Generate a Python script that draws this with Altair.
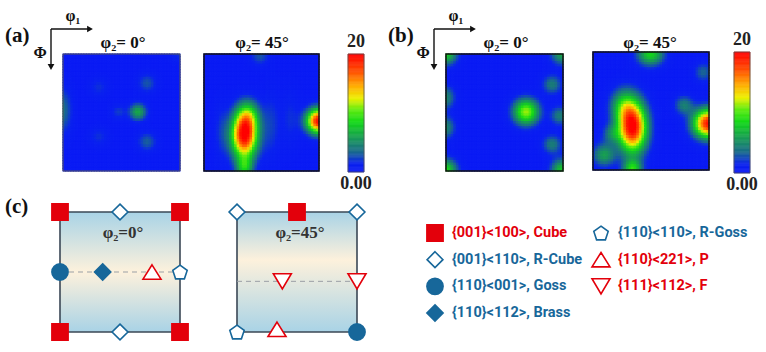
import altair as alt
import numpy as np
import pandas as pd

# ---------------- values ----------------
# ODF hot spots of each section: centre (phi1, Phi) in degrees, peak f(g), spread along phi1 / Phi (deg)
A0_PHI1 = [58, 0, 65, 65, 28, 28, 43, 90]
A0_PHI = [45, 44, 23, 68, 26, 64, 45, 0]
A0_PEAK = [6.0, 3.4, 2.5, 2.8, 1.5, 1.5, 1.8, 1.5]
A0_S1 = [4.5, 5, 5, 5, 5, 5, 4, 5]
A0_S2 = [4.5, 12, 5, 5, 5, 5, 4, 5]

A45_PHI1 = [32, 35, 32, 90, 53, 68, 44, 14]
A45_PHI = [63, 48, 88, 52, 55, 50, 2, 60]
A45_PEAK = [20, 6, 6.5, 19, 1.8, 1.4, 2.5, 1.5]
A45_S1 = [7, 6, 4.5, 6.5, 5, 5, 5, 4]
A45_S2 = [12, 8, 6, 6.5, 18, 15, 5, 15]

B0_PHI1 = [62, 0, 0, 90, 90, 0, 0, 82, 88, 82]
B0_PHI = [45, 0, 90, 0, 90, 34, 57, 24, 48, 70]
B0_PEAK = [11, 8, 8.5, 6, 7.5, 4.5, 4.5, 4, 4, 4]
B0_S1 = [6.8, 6, 6, 6, 6, 5, 5, 5, 5, 5]
B0_S2 = [6.8, 6, 6, 6, 6, 6, 6, 5, 5, 5]

B45_PHI1 = [31, 24, 90, 45, 31, 9, 71, 86, 15]
B45_PHI = [58, 42, 55, 2, 90, 79, 41, 16, 63]
B45_PEAK = [20, 6, 19, 8, 8, 5.5, 4, 3, 3.5]
B45_S1 = [7.5, 7, 8, 7, 5, 6, 5, 5, 5]
B45_S2 = [13, 9, 7.5, 6, 5, 6, 5, 5, 5]

CB_MIN, CB_MAX = 0, 20
CB_LABELS = ["0.00", "20"]

# ideal texture components in the schematic sections (phi1, Phi)
C0_KIND = ["Cube", "Cube", "Cube", "Cube", "R-Cube", "R-Cube", "Goss", "Brass", "P", "R-Goss"]
C0_PHI1 = [0, 90, 0, 90, 45, 45, 0, 32, 69, 90]
C0_PHI = [0, 0, 90, 90, 0, 90, 45, 45, 45, 45]
C45_KIND = ["R-Cube", "R-Cube", "Cube", "F", "F", "R-Goss", "P", "Goss"]
C45_PHI1 = [0, 90, 45, 34, 90, 0, 30, 90]
C45_PHI = [0, 0, 0, 52, 52, 90, 88, 90]
DASH_PHI = [45, 52]

KINDS = ["Cube", "R-Cube", "Goss", "Brass", "R-Goss", "P", "F"]
LEG_LABEL = ["{001}<100>, Cube", "{001}<110>, R-Cube", "{110}<001>, Goss",
             "{110}<112>, Brass", "{110}<110>, R-Goss", "{110}<221>, P", "{111}<112>, F"]
LEG_COL = [0, 0, 0, 0, 1, 1, 1]
LEG_ROW = [0, 1, 2, 3, 0, 1, 2]

# ---------------- styles ----------------
RED = "#e3000b"
BLUE = "#17679a"
SERIF = "Liberation Serif"
SANS = "Roboto"
CB_DOMAIN = [0, 1.5, 3.5, 6, 8.5, 10.5, 12.5, 14.5, 17, 20]
CB_RANGE = ["#0a18f6", "#0a22ee", "#1a6a8c", "#18a050", "#12d818", "#5cec10",
            "#ecf000", "#ffb000", "#ff5200", "#ff0000"]
cscale = alt.Scale(domain=CB_DOMAIN, range=CB_RANGE, interpolate="rgb", clamp=True)

SHAPES = [
    "M-0.9,-0.9L0.9,-0.9L0.9,0.9L-0.9,0.9Z",
    "M0,-0.88L0.88,0L0,0.88L-0.88,0Z",
    "M0,-0.9A0.9,0.9 0 1,1 0,0.9A0.9,0.9 0 1,1 0,-0.9Z",
    "M0,-0.9L0.9,0L0,0.9L-0.9,0Z",
    "M0,-0.76L0.8,-0.18L0.49,0.76L-0.49,0.76L-0.8,-0.18Z",
    "M0,-0.8L1,0.8L-1,0.8Z",
    "M-1,-0.85L1,-0.85L0,0.85Z",
]
FILLS = [RED, "white", BLUE, BLUE, "white", "white", "white"]
STROKES = [RED, BLUE, BLUE, BLUE, BLUE, RED, RED]
TEXT_COLORS = [RED, BLUE, BLUE, BLUE, BLUE, RED, RED]


def sc(domain, rng):
    return alt.Scale(domain=domain, range=rng, nice=False, zero=False)


def odf_grid(p1, P, pk, s1, s2, base=0.4, n=45):
    step = 90.0 / n
    c = (np.arange(n) + 0.5) * step
    X, Y = np.meshgrid(c, c)
    V = np.full_like(X, base)
    for x, y, a, u, w in zip(p1, P, pk, s1, s2):
        V += a * np.exp(-0.5 * (((X - x) / u) ** 2 + ((Y - y) / w) ** 2))
    V = np.clip(V, 0, 20)
    return pd.DataFrame({
        "x0": (X - step / 2).ravel().round(3), "x1": (X + step / 2).ravel().round(3),
        "y0": (Y - step / 2).ravel().round(3), "y1": (Y + step / 2).ravel().round(3),
        "v": V.ravel().round(2)})


def heat(df, xr, yr):
    return alt.Chart(df).mark_rect(strokeWidth=1.1).encode(
        x=alt.X("x0:Q", scale=sc([0, 90], xr), axis=None), x2="x1:Q",
        y=alt.Y("y0:Q", scale=sc([0, 90], yr), axis=None), y2="y1:Q",
        fill=alt.Fill("v:Q", scale=cscale, legend=None),
        stroke=alt.Stroke("v:Q", scale=cscale, legend=None))


FRAME = pd.DataFrame({"x0": [0], "x1": [90], "y0": [0], "y1": [90]})


def frame(xr, yr, color, width, fill="transparent"):
    return alt.Chart(FRAME).mark_rect(fill=fill, stroke=color, strokeWidth=width).encode(
        x=alt.X("x0:Q", scale=sc([0, 90], xr), axis=None), x2="x1:Q",
        y=alt.Y("y0:Q", scale=sc([0, 90], yr), axis=None), y2="y1:Q")


def colorbar(x0, x1, yr):
    lo = np.arange(CB_MIN, CB_MAX, 0.2)
    df = pd.DataFrame({"lo": lo.round(2), "hi": (lo + 0.2).round(2), "v": (lo + 0.1).round(2)})
    bar = alt.Chart(df).mark_rect(strokeWidth=0.6).encode(
        x=alt.value(x0), x2=alt.value(x1),
        y=alt.Y("lo:Q", scale=sc([CB_MIN, CB_MAX], yr), axis=None), y2="hi:Q",
        fill=alt.Fill("v:Q", scale=cscale, legend=None),
        stroke=alt.Stroke("v:Q", scale=cscale, legend=None))
    border = alt.Chart(pd.DataFrame({"a": [CB_MIN], "b": [CB_MAX]})).mark_rect(
        fill="transparent", stroke="#555", strokeWidth=0.8).encode(
        x=alt.value(x0), x2=alt.value(x1),
        y=alt.Y("a:Q", scale=sc([CB_MIN, CB_MAX], yr), axis=None), y2="b:Q")
    tdf = pd.DataFrame({"v": [CB_MIN, CB_MAX], "t": CB_LABELS})
    xc = (x0 + x1) / 2
    top = alt.Chart(tdf).transform_filter(alt.datum.v == CB_MAX).mark_text(
        font=SERIF, fontWeight="bold", fontSize=18, baseline="bottom", dy=-3, color="#222").encode(
        x=alt.value(xc), y=alt.Y("v:Q", scale=sc([CB_MIN, CB_MAX], yr), axis=None), text="t:N")
    bot = alt.Chart(tdf).transform_filter(alt.datum.v == CB_MIN).mark_text(
        font=SERIF, fontWeight="bold", fontSize=18, baseline="top", dy=3, color="#222").encode(
        x=alt.value(xc), y=alt.Y("v:Q", scale=sc([CB_MIN, CB_MAX], yr), axis=None), text="t:N")
    return [bar, border, top, bot]


def text(t, x, y, size, font=SERIF, color="#111", align="center", weight="bold"):
    return alt.Chart(pd.DataFrame({"t": [t]})).mark_text(
        font=font, fontSize=size, fontWeight=weight, color=color, align=align,
        baseline="middle").encode(x=alt.value(x), y=alt.value(y), text="t:N")


def arrows(x, y):
    one = pd.DataFrame({"k": [0]})
    v = alt.Chart(one).mark_rule(color="#111", strokeWidth=1.4).encode(
        x=alt.value(x), y=alt.value(y), y2=alt.value(y + 37))
    h = alt.Chart(one).mark_rule(color="#111", strokeWidth=1.4).encode(
        x=alt.value(x), x2=alt.value(x + 38), y=alt.value(y))
    hv = alt.Chart(one).mark_point(shape="triangle-down", filled=True, color="#111", size=45, opacity=1).encode(
        x=alt.value(x), y=alt.value(y + 38))
    hh = alt.Chart(one).mark_point(shape="triangle-right", filled=True, color="#111", size=45, opacity=1).encode(
        x=alt.value(x + 39), y=alt.value(y))
    return [v, h, hv, hh]


def markers(df, xs, ys, xf="phi1", yf="Phi"):
    return alt.Chart(df).mark_point(filled=True, strokeWidth=1.6, size=324, opacity=1).encode(
        x=alt.X(f"{xf}:Q", scale=xs, axis=None),
        y=alt.Y(f"{yf}:Q", scale=ys, axis=None),
        shape=alt.Shape("kind:N", scale=alt.Scale(domain=KINDS, range=SHAPES), legend=None),
        fill=alt.Fill("kind:N", scale=alt.Scale(domain=KINDS, range=FILLS), legend=None),
        stroke=alt.Stroke("kind:N", scale=alt.Scale(domain=KINDS, range=STROKES), legend=None))


def schematic(kind, p1, P, dash, xr, yr, stop):
    grad = alt.Gradient(gradient="linear", x1=0, x2=0, y1=0, y2=1, stops=[
        alt.GradientStop(offset=0, color="#a9d3e6"),
        alt.GradientStop(offset=stop, color="#fdf1dc"),
        alt.GradientStop(offset=1, color="#a9d3e6")])
    box = frame(xr, yr, "#3b4856", 1.6, fill=grad)
    dline = alt.Chart(pd.DataFrame({"a": [0], "b": [90], "y": [dash]})).mark_rule(
        color="#9a9fa5", strokeWidth=1, strokeDash=[5, 4]).encode(
        x=alt.X("a:Q", scale=sc([0, 90], xr), axis=None), x2="b:Q",
        y=alt.Y("y:Q", scale=sc([0, 90], yr), axis=None))
    mk = markers(pd.DataFrame({"kind": kind, "phi1": p1, "Phi": P}), sc([0, 90], xr), sc([0, 90], yr))
    return [box, dline, mk]


layers = []
# ---- (a) ----
layers += [heat(odf_grid(A0_PHI1, A0_PHI, A0_PEAK, A0_S1, A0_S2), [63, 180], [54, 171]),
           frame([63, 180], [54, 171], "#555", 1.0)]
layers += [heat(odf_grid(A45_PHI1, A45_PHI, A45_PEAK, A45_S1, A45_S2), [204, 319], [54, 171]),
           frame([204, 319], [54, 171], "#111", 1.5)]
layers += colorbar(348, 364, [172, 54])
# ---- (b) ----
layers += [heat(odf_grid(B0_PHI1, B0_PHI, B0_PEAK, B0_S1, B0_S2), [446, 563], [54, 171]),
           frame([446, 563], [54, 171], "#111", 1.5)]
layers += [heat(odf_grid(B45_PHI1, B45_PHI, B45_PEAK, B45_S1, B45_S2), [593, 709], [52, 170]),
           frame([593, 709], [52, 170], "#111", 1.5)]
layers += colorbar(734, 750, [173, 52])
# ---- (c) ----
layers += schematic(C0_KIND, C0_PHI1, C0_PHI, DASH_PHI[0], [60, 180], [212, 332], 0.5)
layers += schematic(C45_KIND, C45_PHI1, C45_PHI, DASH_PHI[1], [237, 357], [212, 332], 0.4)

# legend
leg = pd.DataFrame({"kind": KINDS, "label": LEG_LABEL, "col": LEG_COL, "row": LEG_ROW})
lx = sc([0, 1], [435, 601])
ly = sc([0, 3], [233, 313])
layers.append(markers(leg, lx, ly, "col", "row"))
layers.append(alt.Chart(leg).mark_text(font=SANS, fontWeight="bold", fontSize=14.5, align="left",
                                      baseline="middle", dx=17).encode(
    x=alt.X("col:Q", scale=lx, axis=None), y=alt.Y("row:Q", scale=ly, axis=None), text="label:N",
    color=alt.Color("kind:N", scale=alt.Scale(domain=KINDS, range=TEXT_COLORS), legend=None)))

# annotations
layers += [text("(a)", 5, 36, 21, align="left"), text("(b)", 388, 36, 21, align="left"),
           text("(c)", 5, 207, 21, align="left")]
layers += arrows(51, 29) + arrows(434, 29)
layers += [text("φ₁", 73, 16, 16), text("Φ", 40, 53, 16),
           text("φ₁", 456, 16, 16), text("Φ", 423, 53, 16)]
layers += [text("φ₂= 0°", 123, 43, 17), text("φ₂= 45°", 262, 43, 17),
           text("φ₂= 0°", 506, 43, 17), text("φ₂= 45°", 650, 43, 17)]
layers += [text("φ₂=0°", 123, 233, 17, color="#333"), text("φ₂=45°", 300, 233, 17, color="#333")]

chart = alt.layer(*layers).resolve_scale(
    x="independent", y="independent", fill="independent", stroke="independent",
    shape="independent", color="independent"
).properties(
    width=766, height=352, padding=0, background="white",
    autosize=alt.AutoSizeParams(type="none")
).configure_view(stroke=None)

chart.save("out.html", embed_options={"renderer": "svg", "actions": False})
